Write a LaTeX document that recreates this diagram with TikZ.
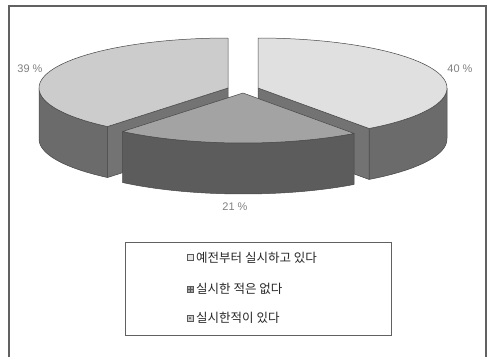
\documentclass[tikz,border=0pt]{standalone}
\usepackage{fontspec}
\setmainfont{Liberation Sans}
\newfontfamily\krfont{Noto Sans CJK KR}
\begin{document}
\begin{tikzpicture}[x=1pt,y=-1pt,
  frame/.style={draw=black!62, line width=1.3pt},
  edge/.style={draw=black!72, line width=0.5pt, line join=round},
  topright/.style={edge, fill=black!12},
  topleft/.style={edge, fill=black!20},
  topmid/.style={edge, fill=black!36},
  wall/.style={edge, fill=black!58},
  wallmid/.style={edge, fill=black!64},
  face/.style={edge, fill=black!55},
  pct/.style={font=\fontsize{11}{13}\selectfont, text=black!50, inner sep=0},
  legtext/.style={font=\krfont\fontsize{12.5}{15}\selectfont, text=black!85, anchor=west, inner sep=0},
  legbox/.style={draw=black!62, line width=1.1pt, anchor=north west, inner sep=0, minimum width=266pt, minimum height=93pt},
  marker/.style={draw=black!65, line width=0.6pt, minimum size=6pt, inner sep=0}
]
\useasboundingbox (0,0) rectangle (488,357);
\def\rx{189}\def\ry{50}\def\h{51}
% outer frame
\draw[frame] (9,357) -- (9,6) -- (486,6) -- (486,357);
% ---- right slice (40 %)
\coordinate (cR) at (258,88);
\path[wall] plot[domain=0:-54, samples=30] ({258+\rx*cos(\x)},{88-\ry*sin(\x)})
  -- plot[domain=-54:0, samples=30] ({258+\rx*cos(\x)},{88+\h-\ry*sin(\x)}) -- cycle;
\path[face] (cR) -- ({258+\rx*cos(-54)},{88-\ry*sin(-54)}) -- ++(0,\h) -- ([yshift=-\h pt]cR) -- cycle;
\path[topright] (cR) -- plot[domain=90:-54, samples=60] ({258+\rx*cos(\x)},{88-\ry*sin(\x)}) -- cycle;
% ---- left slice (39 %)
\coordinate (cL) at (228,88);
\path[wall] plot[domain=180:230.4, samples=30] ({228+\rx*cos(\x)},{88-\ry*sin(\x)})
  -- plot[domain=230.4:180, samples=30] ({228+\rx*cos(\x)},{88+\h-\ry*sin(\x)}) -- cycle;
\path[face] (cL) -- ({228+\rx*cos(230.4)},{88-\ry*sin(230.4)}) -- ++(0,\h) -- ([yshift=-\h pt]cL) -- cycle;
\path[topleft] (cL) -- plot[domain=90:230.4, samples=60] ({228+\rx*cos(\x)},{88-\ry*sin(\x)}) -- cycle;
% ---- bottom slice (21 %)
\coordinate (cB) at (243,93);
\path[wallmid] plot[domain=-129.6:-54, samples=40] ({243+\rx*cos(\x)},{93-\ry*sin(\x)})
  -- plot[domain=-54:-129.6, samples=40] ({243+\rx*cos(\x)},{93+\h-\ry*sin(\x)}) -- cycle;
\path[topmid] (cB) -- plot[domain=-129.6:-54, samples=40] ({243+\rx*cos(\x)},{93-\ry*sin(\x)}) -- cycle;
% ---- percentage labels
\node[pct] (p39) at (30,69) {39 \%};
\node[pct] (p40) at (460,69) {40 \%};
\node[pct] (p21) at (235,207) {21 \%};
% ---- legend
\node[legbox] (legend) at (125,242) {};
\node[marker, fill=black!10] (m1) at (190,257.5) {};
\node[marker, fill=black!35] (m2) at (190,289) {};
\draw[black!65, line width=0.4pt] (m2.north) -- (m2.south) (m2.west) -- (m2.east);
\node[marker, fill=black!20] (m3) at (190,318) {};
\fill[black!70] (m3.center) circle (1pt);
\node[legtext] (t1) at (196,257.5) {예전부터 실시하고 있다};
\node[legtext] (t2) at (196,289) {실시한 적은 없다};
\node[legtext] (t3) at (196,318) {실시한적이 있다};
\end{tikzpicture}
\end{document}
